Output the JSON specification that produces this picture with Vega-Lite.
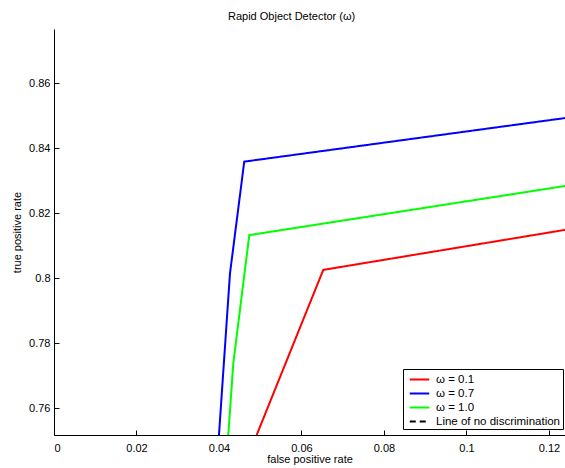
{
  "$schema": "https://vega.github.io/schema/vega-lite/v6.json",
  "width": 511,
  "height": 406,
  "autosize": {"type": "none"},
  "padding": {"left": 54, "top": 29, "right": 0, "bottom": 33},
  "background": "white",
  "config": {
    "font": "Liberation Sans",
    "view": {"stroke": null},
    "axis": {
      "domainColor": "black",
      "tickColor": "black",
      "labelColor": "black",
      "titleColor": "black",
      "labelFontSize": 11,
      "titleFontSize": 11,
      "titleFontWeight": "normal",
      "grid": false,
      "tickSize": -5,
      "domainWidth": 1,
      "tickWidth": 1
    }
  },
  "title": {
    "text": "Rapid Object Detector (ω)",
    "fontSize": 11,
    "fontWeight": "normal",
    "font": "Liberation Sans",
    "anchor": "start",
    "frame": "group",
    "dx": 174,
    "offset": 7,
    "color": "black"
  },
  "data": {
    "values": [
      {"series": "ω = 0.1", "fpr": 0.04914, "tpr": 0.7518, "ord": 1},
      {"series": "ω = 0.1", "fpr": 0.06529, "tpr": 0.8026, "ord": 2},
      {"series": "ω = 0.1", "fpr": 0.1239, "tpr": 0.8149, "ord": 3},
      {"series": "ω = 0.7", "fpr": 0.0400, "tpr": 0.7518, "ord": 1},
      {"series": "ω = 0.7", "fpr": 0.04267, "tpr": 0.8015, "ord": 2},
      {"series": "ω = 0.7", "fpr": 0.04613, "tpr": 0.8359, "ord": 3},
      {"series": "ω = 0.7", "fpr": 0.1239, "tpr": 0.8493, "ord": 4},
      {"series": "ω = 1.0", "fpr": 0.04226, "tpr": 0.7518, "ord": 1},
      {"series": "ω = 1.0", "fpr": 0.04347, "tpr": 0.7738, "ord": 2},
      {"series": "ω = 1.0", "fpr": 0.04735, "tpr": 0.8133, "ord": 3},
      {"series": "ω = 1.0", "fpr": 0.1239, "tpr": 0.8284, "ord": 4},
      {"series": "Line of no discrimination", "fpr": 0, "tpr": 0, "ord": 1},
      {"series": "Line of no discrimination", "fpr": 1, "tpr": 1, "ord": 2}
    ]
  },
  "mark": {"type": "line", "strokeWidth": 2, "clip": true},
  "encoding": {
    "x": {
      "field": "fpr",
      "type": "quantitative",
      "scale": {"domain": [0, 0.1239], "nice": false, "zero": false},
      "axis": {
        "title": "false positive rate",
        "values": [0, 0.02, 0.04, 0.06, 0.08, 0.1, 0.12],
        "format": "~g",
        "labelPadding": 12,
        "titlePadding": 0
      }
    },
    "y": {
      "field": "tpr",
      "type": "quantitative",
      "scale": {"domain": [0.7518, 0.8767], "nice": false, "zero": false},
      "axis": {
        "title": "true positive rate",
        "values": [0.76, 0.78, 0.8, 0.82, 0.84, 0.86],
        "format": "~g",
        "labelPadding": 9,
        "titlePadding": 6
      }
    },
    "order": {"field": "ord", "type": "quantitative"},
    "color": {
      "field": "series",
      "type": "nominal",
      "scale": {
        "domain": ["ω = 0.1", "ω = 0.7", "ω = 1.0", "Line of no discrimination"],
        "range": ["#ff0000", "#0000ff", "#00ff00", "#000000"]
      },
      "legend": {
        "title": null,
        "orient": "none",
        "legendX": 349,
        "legendY": 340,
        "fillColor": "white",
        "strokeColor": "black",
        "padding": 2,
        "symbolType": "M-1.3,0H1.3",
        "symbolSize": 225,
        "symbolOffset": 6,
        "symbolStrokeWidth": 2,
        "labelOffset": 8,
        "rowPadding": 0,
        "labelFontSize": 11.5,
        "labelColor": "black",
        "labelFont": "Liberation Sans"
      }
    },
    "strokeDash": {
      "field": "series",
      "type": "nominal",
      "scale": {
        "domain": ["ω = 0.1", "ω = 0.7", "ω = 1.0", "Line of no discrimination"],
        "range": [[1, 0], [1, 0], [1, 0], [6, 4]]
      },
      "legend": null
    }
  }
}
